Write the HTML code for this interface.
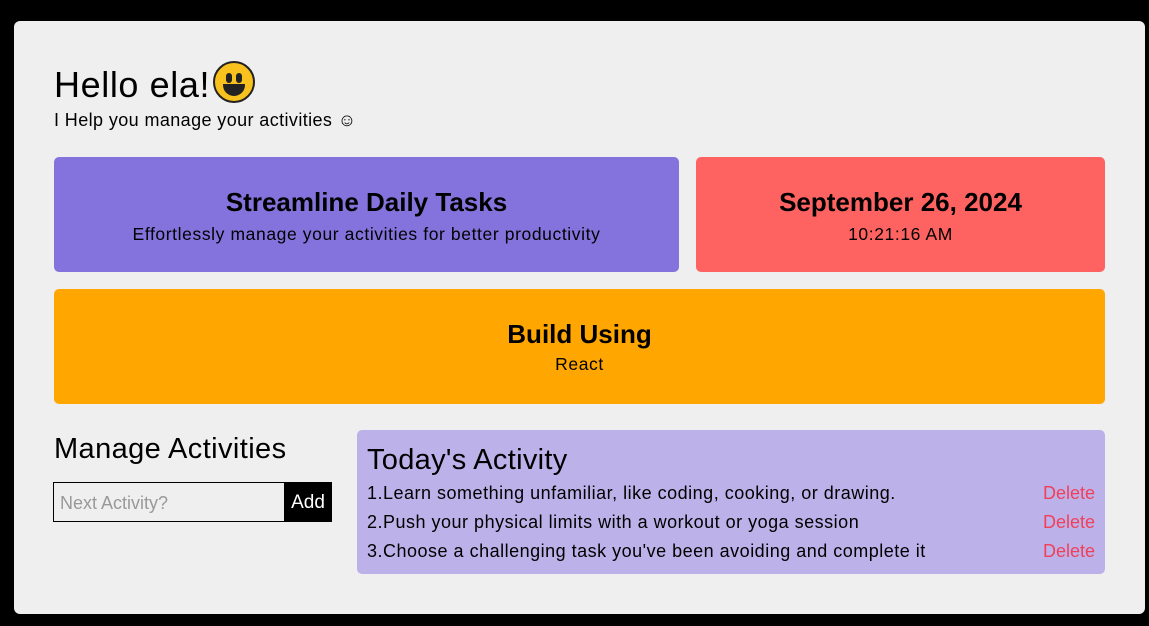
<!DOCTYPE html>
<html><head><meta charset="utf-8"><style>
*{margin:0;padding:0;box-sizing:border-box}
body{width:1149px;height:626px;background:#000;font-family:"Liberation Sans",sans-serif;position:relative;overflow:hidden;color:#000}
.c{position:absolute;left:14px;top:21px;width:1131px;height:593px;background:#efefef;border-radius:6px}
.a{position:absolute}
.box{position:absolute;border-radius:5px;text-align:center}
h1{position:absolute;left:54px;top:61px;font-size:36px;font-weight:normal;line-height:42px;letter-spacing:.6px}
.emo{display:inline-block;width:42px;height:42px;border-radius:50%;background:#f9c11e;border:2px solid #222;vertical-align:-6px;position:relative;margin-left:3px}
.emo:before,.emo:after{content:"";position:absolute;top:10px;width:6px;height:10px;background:#222;border-radius:3px}
.emo:before{left:11px}.emo:after{right:11px}
.m{position:absolute;left:8px;right:8px;top:21px;height:12px;background:#222;border-radius:0 0 12px 12px}
.t{font-size:26px;line-height:32px;font-weight:bold}
.s{font-size:17.5px;line-height:22px;margin-top:5px;letter-spacing:.6px}
.row{position:absolute;left:10px;right:10px;font-size:18px;line-height:22px;letter-spacing:.5px}
.row span{position:absolute;right:0;color:#f0405a;letter-spacing:0}
</style></head><body>
<div class="c"></div>
<h1>Hello ela!<span class="emo"><span class="m"></span></span></h1>
<div class="a" style="left:54px;top:110px;font-size:18px;letter-spacing:.4px">I Help you manage your activities ☺</div>
<div class="box" style="left:54px;top:157px;width:625px;height:115px;background:#8473dc;padding-top:29px"><div class="t">Streamline Daily Tasks</div><div class="s">Effortlessly manage your activities for better productivity</div></div>
<div class="box" style="left:696px;top:157px;width:409px;height:115px;background:#ff6361;padding-top:29px"><div class="t">September 26, 2024</div><div class="s">10:21:16 AM</div></div>
<div class="box" style="left:54px;top:289px;width:1051px;height:115px;background:#ffa600;padding-top:29px"><div class="t">Build Using</div><div class="s" style="margin-top:3px">React</div></div>
<div class="a" style="left:54px;top:433px;font-size:29px;letter-spacing:.4px">Manage Activities</div>
<div class="a" style="left:53px;top:482px;width:232px;height:40px;border:1px solid #000;background:#efefef;color:#999;font-size:18px;padding:10px 6px">Next Activity?</div>
<div class="a" style="left:284px;top:482px;width:48px;height:40px;background:#000;color:#fff;font-size:19px;text-align:center;line-height:42px">Add</div>
<div class="box" style="left:357px;top:430px;width:748px;height:144px;background:#bcb2e9;text-align:left">
<div class="a" style="left:10px;top:14px;font-size:29px;letter-spacing:.3px">Today's Activity</div>
<div class="row" style="top:52px">1.Learn something unfamiliar, like coding, cooking, or drawing.<span>Delete</span></div>
<div class="row" style="top:81px">2.Push your physical limits with a workout or yoga session<span>Delete</span></div>
<div class="row" style="top:110px">3.Choose a challenging task you've been avoiding and complete it<span>Delete</span></div>
</div>
</body></html>
